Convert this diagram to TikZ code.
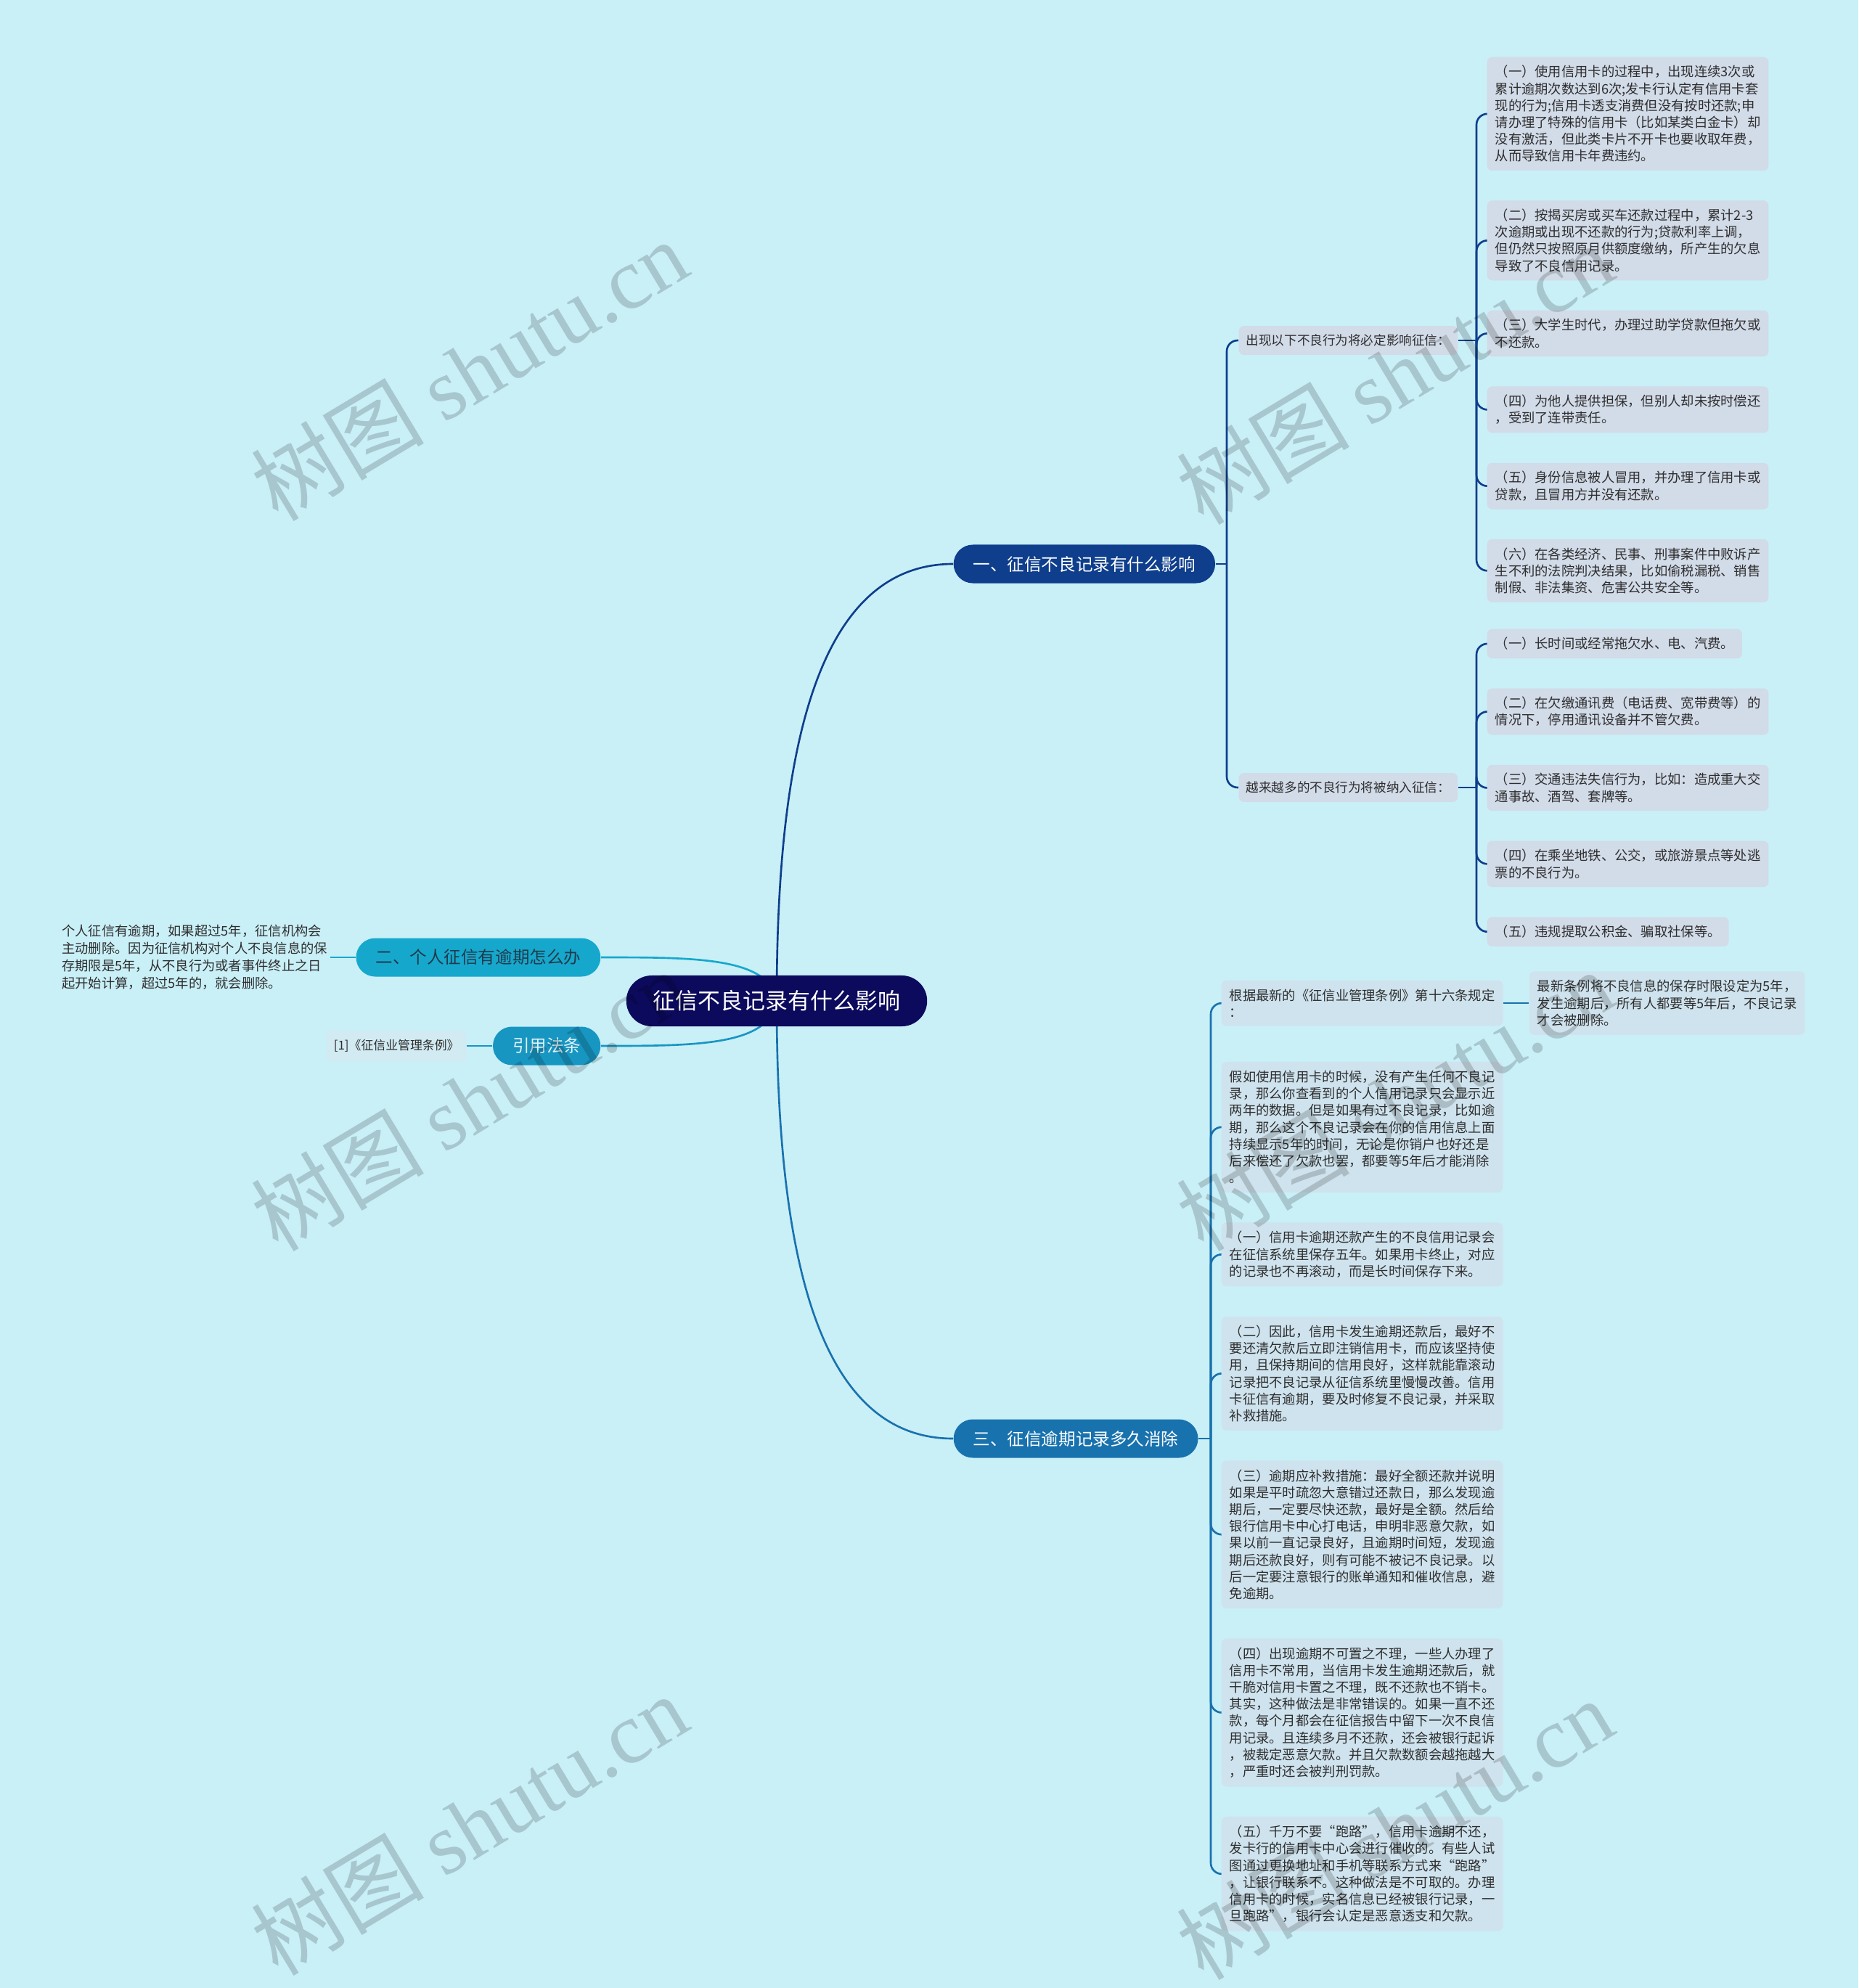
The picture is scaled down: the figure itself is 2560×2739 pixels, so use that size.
\documentclass[tikz,border=0pt]{standalone}
\usepackage{fontspec}
\setmainfont{Noto Sans CJK SC}
\newfontfamily\markfont{Liberation Serif}
\usetikzlibrary{positioning,backgrounds}

\definecolor{bgcol}{HTML}{C9EFF7}
\definecolor{rootcol}{HTML}{0C0A5C}
\definecolor{onecol}{HTML}{0E3E8C}
\definecolor{twocol}{HTML}{16A8CC}
\definecolor{twoink}{HTML}{1F3A4D}
\definecolor{refcol}{HTML}{1896C2}
\definecolor{refink}{HTML}{E4F2F7}
\definecolor{threecol}{HTML}{1872AE}
\definecolor{leafcol}{HTML}{D2DBE8}
\definecolor{notecol}{HTML}{CFE3EE}
\definecolor{citecol}{HTML}{D2EAF2}
\definecolor{inkcol}{HTML}{2E2E2E}

\begin{document}
\begin{tikzpicture}[x=0.01cm,y=-0.01cm,
  rootbox/.style={fill=rootcol,text=white,rounded corners=0.35cm,minimum height=0.7cm,inner xsep=0.37cm,font=\fontsize{8.8}{10}\selectfont},
  branchbox/.style={rounded corners=0.265cm,minimum height=0.53cm,inner xsep=0.27cm,font=\fontsize{6.7}{8}\selectfont},
  midbox/.style={fill=leafcol,rounded corners=0.07cm,minimum height=0.39cm,inner xsep=0.1cm,text=inkcol,font=\fontsize{5}{6.4}\selectfont},
  leafbox/.style={fill=leafcol,rounded corners=0.07cm,inner xsep=0.11cm,inner ysep=0.115cm,align=left,text=inkcol,font=\fontsize{5.2}{6.6}\selectfont},
  notebox/.style={leafbox,fill=notecol,inner ysep=0.12cm},
  plainnote/.style={inner sep=0.03cm,align=left,text=inkcol,font=\fontsize{5.2}{6.8}\selectfont},
  citebox/.style={fill=citecol,rounded corners=0.07cm,minimum height=0.42cm,inner xsep=0.1cm,text=inkcol,font=\fontsize{4.8}{6}\selectfont},
  nextbelow/.style={below=0.4cm of #1.south west,anchor=north west},
  edge/.style={line width=0.75pt},
  bracket/.style={edge,rounded corners=0.15cm},
  watermark/.style={rotate=31,text=black,opacity=0.17,font=\fontsize{34}{34}\selectfont}]
\useasboundingbox (0,0) rectangle (2560,2739);

% centre and main branches
\node[rootbox] (root) at (1070,1379) {征信不良记录有什么影响};
\node[branchbox,fill=onecol,text=white,anchor=west] (one) at (1313,777) {一、征信不良记录有什么影响};
\node[branchbox,fill=twocol,text=twoink,anchor=east] (two) at (828,1319) {二、个人征信有逾期怎么办};
\node[branchbox,fill=refcol,text=refink,anchor=east] (cite) at (828,1441) {引用法条};
\node[branchbox,fill=threecol,text=white,anchor=west] (three) at (1313,1982) {三、征信逾期记录多久消除};

% left side
\node[plainnote,left=0.35cm of two] (twonote) {个人征信有逾期，如果超过5年，征信机构会\\主动删除。因为征信机构对个人不良信息的保\\存期限是5年，从不良行为或者事件终止之日\\起开始计算，超过5年的，就会删除。};
\node[citebox,left=0.35cm of cite] (law) {[1]《征信业管理条例》};

% branch one
\node[midbox,anchor=west] (must) at (1706,469) {出现以下不良行为将必定影响征信：};
\node[midbox,anchor=west] (more) at (1706,1085) {越来越多的不良行为将被纳入征信：};
\coordinate (onesp) at (1690,777);
\coordinate (mustsp) at (2034,469);
\coordinate (moresp) at (2034,1085);

\node[leafbox,anchor=north west] (must1) at (2048,78) {（一）使用信用卡的过程中，出现连续3次或\\累计逾期次数达到6次;发卡行认定有信用卡套\\现的行为;信用卡透支消费但没有按时还款;申\\请办理了特殊的信用卡（比如某类白金卡）却\\没有激活，但此类卡片不开卡也要收取年费，\\从而导致信用卡年费违约。};
\node[leafbox,nextbelow=must1] (must2) {（二）按揭买房或买车还款过程中，累计2-3\\次逾期或出现不还款的行为;贷款利率上调，\\但仍然只按照原月供额度缴纳，所产生的欠息\\导致了不良信用记录。};
\node[leafbox,nextbelow=must2] (must3) {（三）大学生时代，办理过助学贷款但拖欠或\\不还款。};
\node[leafbox,nextbelow=must3] (must4) {（四）为他人提供担保，但别人却未按时偿还\\，受到了连带责任。};
\node[leafbox,nextbelow=must4] (must5) {（五）身份信息被人冒用，并办理了信用卡或\\贷款，且冒用方并没有还款。};
\node[leafbox,nextbelow=must5] (must6) {（六）在各类经济、民事、刑事案件中败诉产\\生不利的法院判决结果，比如偷税漏税、销售\\制假、非法集资、危害公共安全等。};

\node[leafbox,anchor=north west] (more1) at (2048,866) {（一）长时间或经常拖欠水、电、汽费。};
\node[leafbox,nextbelow=more1] (more2) {（二）在欠缴通讯费（电话费、宽带费等）的\\情况下，停用通讯设备并不管欠费。};
\node[leafbox,nextbelow=more2] (more3) {（三）交通违法失信行为，比如：造成重大交\\通事故、酒驾、套牌等。};
\node[leafbox,nextbelow=more3] (more4) {（四）在乘坐地铁、公交，或旅游景点等处逃\\票的不良行为。};
\node[leafbox,nextbelow=more4] (more5) {（五）违规提取公积金、骗取社保等。};

% branch three
\coordinate (threesp) at (1668,1982);
\node[notebox,anchor=north west] (basis) at (1682,1350) {根据最新的《征信业管理条例》第十六条规定\\：};
\node[notebox,right=0.35cm of basis] (newrule) {最新条例将不良信息的保存时限设定为5年，\\发生逾期后，所有人都要等5年后，不良记录\\才会被删除。};
\node[notebox,below=0.48cm of basis.south west,anchor=north west] (ifcard) {假如使用信用卡的时候，没有产生任何不良记\\录，那么你查看到的个人信用记录只会显示近\\两年的数据。但是如果有过不良记录，比如逾\\期，那么这个不良记录会在你的信用信息上面\\持续显示5年的时间，无论是你销户也好还是\\后来偿还了欠款也罢，都要等5年后才能消除\\。};
\node[notebox,nextbelow=ifcard] (erase1) {（一）信用卡逾期还款产生的不良信用记录会\\在征信系统里保存五年。如果用卡终止，对应\\的记录也不再滚动，而是长时间保存下来。};
\node[notebox,nextbelow=erase1] (erase2) {（二）因此，信用卡发生逾期还款后，最好不\\要还清欠款后立即注销信用卡，而应该坚持使\\用，且保持期间的信用良好，这样就能靠滚动\\记录把不良记录从征信系统里慢慢改善。信用\\卡征信有逾期，要及时修复不良记录，并采取\\补救措施。};
\node[notebox,nextbelow=erase2] (erase3) {（三）逾期应补救措施：最好全额还款并说明\\如果是平时疏忽大意错过还款日，那么发现逾\\期后，一定要尽快还款，最好是全额。然后给\\银行信用卡中心打电话，申明非恶意欠款，如\\果以前一直记录良好，且逾期时间短，发现逾\\期后还款良好，则有可能不被记不良记录。以\\后一定要注意银行的账单通知和催收信息，避\\免逾期。};
\node[notebox,nextbelow=erase3] (erase4) {（四）出现逾期不可置之不理，一些人办理了\\信用卡不常用，当信用卡发生逾期还款后，就\\干脆对信用卡置之不理，既不还款也不销卡。\\其实，这种做法是非常错误的。如果一直不还\\款，每个月都会在征信报告中留下一次不良信\\用记录。且连续多月不还款，还会被银行起诉\\，被裁定恶意欠款。并且欠款数额会越拖越大\\，严重时还会被判刑罚款。};
\node[notebox,nextbelow=erase4] (erase5) {（五）千万不要“跑路”，信用卡逾期不还，\\发卡行的信用卡中心会进行催收的。有些人试\\图通过更换地址和手机等联系方式来“跑路”\\，让银行联系不。这种做法是不可取的。办理\\信用卡的时候，实名信息已经被银行记录，一\\旦跑路”，银行会认定是恶意透支和欠款。};

% connectors
\begin{scope}[on background layer]
  \fill[bgcol] (0,0) rectangle (2560,2739);
  \draw[edge,onecol] (root.center) .. controls (1070,1050) and (1120,777) .. (one.west);
  \draw[edge,threecol] (root.center) .. controls (1070,1710) and (1120,1982) .. (three.west);
  \draw[edge,twocol] (root.center) .. controls (1060,1319) and (960,1319) .. (two.east);
  \draw[edge,refcol] (root.center) .. controls (1060,1441) and (960,1441) .. (cite.east);
  \draw[edge,twocol] (two) -- (twonote);
  \draw[edge,refcol] (cite) -- (law);
  \draw[edge,onecol] (one.east) -- (onesp);
  \foreach \c in {must,more} \draw[bracket,onecol] (onesp) |- (\c.west);
  \draw[edge,onecol] (must.east) -- (mustsp);
  \foreach \c in {must1,must2,must3,must4,must5,must6} \draw[bracket,onecol] (mustsp) |- (\c.west);
  \draw[edge,onecol] (more.east) -- (moresp);
  \foreach \c in {more1,more2,more3,more4,more5} \draw[bracket,onecol] (moresp) |- (\c.west);
  \draw[edge,threecol] (three.east) -- (threesp);
  \foreach \c in {basis,ifcard,erase1,erase2,erase3,erase4,erase5} \draw[bracket,threecol] (threesp) |- (\c.west);
  \draw[edge,threecol] (basis) -- (newrule);
\end{scope}

% watermarks
\foreach \wx/\wy [count=\i] in {646/510,1921/515,646/1516,1921/1516,646/2514,1921/2520}
  \node[watermark] (mark\i) at (\wx,\wy) {树图 {\markfont shutu.cn}};
\end{tikzpicture}
\end{document}
